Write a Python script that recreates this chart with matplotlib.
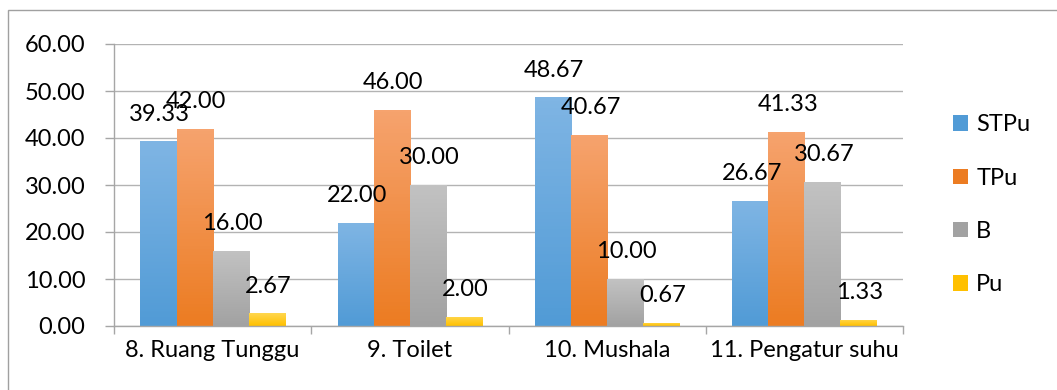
import numpy as np
import matplotlib
matplotlib.use("Agg")
import matplotlib.pyplot as plt
from matplotlib.colors import LinearSegmentedColormap
from matplotlib.patches import Patch, Rectangle

categories = ["8. Ruang Tunggu", "9. Toilet", "10. Mushala", "11. Pengatur suhu"]
series = ["STPu", "TPu", "B", "Pu"]
stpu = [39.33, 22.00, 48.67, 26.67]
tpu = [42.00, 46.00, 40.67, 41.33]
b = [16.00, 30.00, 10.00, 30.67]
pu = [2.67, 2.00, 0.67, 1.33]
values = [stpu, tpu, b, pu]

# (top colour, bottom colour) for the gradient fills
grad = [("#7fb5e4", "#519bd6"),
        ("#f6a36e", "#ec7c22"),
        ("#c2c2c2", "#a2a2a2"),
        ("#ffd74f", "#ffc000")]

plt.rcParams['font.family'] = ['Lato', 'DejaVu Sans']
fs = 17

fig = plt.figure(figsize=(10.57, 3.90), dpi=100)
ax = fig.add_axes([114 / 1057, 1 - 326 / 390, (903 - 114) / 1057, (326 - 44) / 390])

x = np.arange(len(categories))
w = 0.183
for i, (name, vals) in enumerate(zip(series, values)):
    pos = x + (i - 1.5) * w
    bars = ax.bar(pos, vals, w, color=grad[i][1], zorder=2)
    cmap = LinearSegmentedColormap.from_list(name, [grad[i][1], grad[i][0]])
    for rect, v in zip(bars, vals):
        x0 = rect.get_x()
        img = ax.imshow(np.linspace(0, 1, 64).reshape(-1, 1), cmap=cmap,
                        extent=[x0, x0 + w, 0, v], origin="lower",
                        aspect="auto", zorder=2.5)
        img.set_clip_path(rect)
        ax.annotate(f"{v:.2f}", (x0 + w / 2, v), xytext=(1, 19.5),
                    textcoords="offset points", ha="center", va="center",
                    fontsize=fs, color="black", zorder=4)

ax.set_xlim(-0.5, 3.5)
ax.set_ylim(0, 60)
ax.set_yticks(np.arange(0, 61, 10))
ax.set_yticklabels([f"{t:.2f}" for t in range(0, 61, 10)], fontsize=fs)
ax.set_xticks(x)
ax.set_xticklabels(categories, fontsize=fs)
ax.set_xticks(np.arange(-0.5, 4, 1), minor=True)
ax.tick_params(axis="x", which="major", length=0, pad=10)
ax.tick_params(axis="x", which="minor", length=6, color="#a6a6a6", width=1, direction="out")
ax.tick_params(axis="y", length=6.5, color="#a6a6a6", width=1, pad=14)
ax.grid(axis="y", color="#b3b3b3", linewidth=1, zorder=0)
ax.set_axisbelow(True)
for s in ["top", "right"]:
    ax.spines[s].set_visible(False)
for s in ["left", "bottom"]:
    ax.spines[s].set_color("#a6a6a6")
    ax.spines[s].set_linewidth(1)

handles = [Patch(facecolor=g[1], edgecolor="none") for g in grad]
ax.legend(handles, series, loc="center left", bbox_to_anchor=(1.037, 0.43),
          frameon=False, fontsize=fs, handlelength=0.62, handleheight=0.62,
          handletextpad=0.35, labelspacing=1.37)

fig.patches.append(Rectangle((8 / 1057, -0.1), 1.2, 1 - 10 / 390 + 0.1,
                             transform=fig.transFigure, fill=False,
                             edgecolor="#a0a0a0", linewidth=1, zorder=-1))

fig.savefig("out.png", dpi=100)
